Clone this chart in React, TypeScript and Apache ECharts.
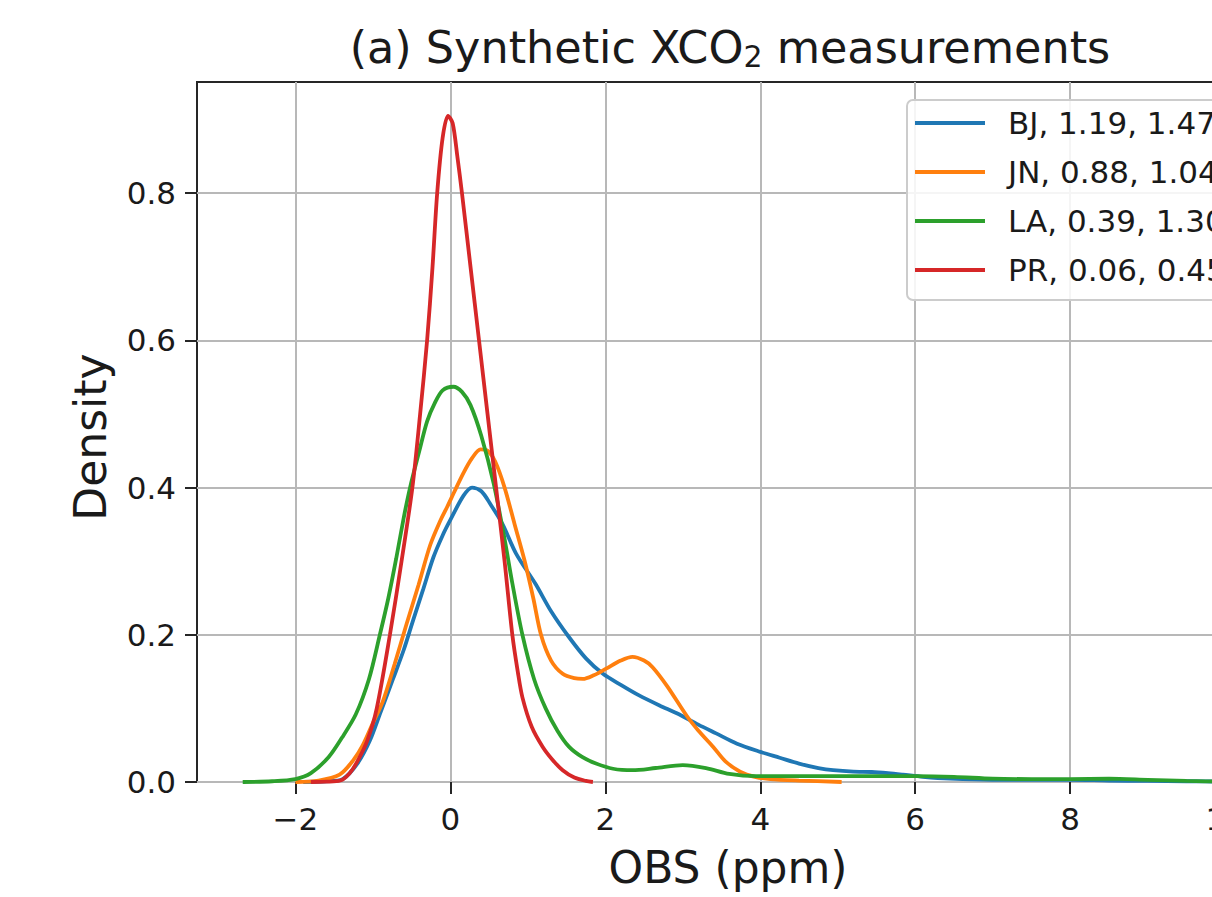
import React, { useEffect, useRef } from 'react';
import * as echarts from 'echarts';

const FONT = 'DejaVu Sans';

const xTicks = [-2, 0, 2, 4, 6, 8, 10];
const yTicks = [0, 0.2, 0.4, 0.6, 0.8];
const xMin = -3.27;
const xMax = 10.45;
const yMax = 0.951;

const legendLabels = ['BJ, 1.19, 1.47', 'JN, 0.88, 1.04', 'LA, 0.39, 1.30', 'PR, 0.06, 0.45'];
const colors = ['#1f77b4', '#ff7f0e', '#2ca02c', '#d62728'];

// BJ (blue)
const bjX = [-1.9, -1.6, -1.39, -1.2, -1.04, -0.9, -0.74, -0.6, -0.48, -0.35, -0.22, -0.1, 0.0, 0.17, 0.28, 0.4, 0.52, 0.67, 0.85, 1.1, 1.3, 1.53, 1.75, 1.97, 2.2, 2.43, 2.7, 2.93, 3.2, 3.43, 3.7, 4.0, 4.25, 4.5, 4.75, 4.94, 5.2, 5.44, 5.65, 5.84, 6.1, 6.45, 7.0, 7.5, 8.0, 8.5, 9.0, 9.5, 10.0, 10.45];
const bjY = [0, 0.001, 0.004, 0.025, 0.056, 0.095, 0.14, 0.18, 0.22, 0.262, 0.305, 0.335, 0.356, 0.389, 0.4, 0.395, 0.377, 0.351, 0.31, 0.269, 0.232, 0.197, 0.168, 0.147, 0.132, 0.118, 0.104, 0.093, 0.078, 0.066, 0.052, 0.041, 0.033, 0.025, 0.019, 0.016, 0.014, 0.0136, 0.012, 0.01, 0.007, 0.0045, 0.003, 0.003, 0.003, 0.002, 0.0015, 0.001, 0.0005, 0.0003];

// JN (orange)
const jnX = [-2.0, -1.7, -1.43, -1.25, -1.13, -1.0, -0.87, -0.72, -0.57, -0.41, -0.26, -0.13, -0.04, 0.05, 0.17, 0.28, 0.39, 0.48, 0.58, 0.7, 0.83, 0.96, 1.07, 1.17, 1.3, 1.45, 1.6, 1.71, 1.85, 2.01, 2.2, 2.35, 2.5, 2.61, 2.8, 3.05, 3.2, 3.39, 3.55, 3.74, 3.93, 4.13, 4.5, 5.05];
const jnY = [0, 0.002, 0.01, 0.03, 0.05, 0.08, 0.11, 0.16, 0.213, 0.268, 0.322, 0.355, 0.374, 0.394, 0.42, 0.44, 0.452, 0.45, 0.435, 0.4, 0.35, 0.3, 0.25, 0.2, 0.165, 0.147, 0.141, 0.14, 0.145, 0.154, 0.165, 0.17, 0.165, 0.156, 0.13, 0.09, 0.07, 0.048, 0.028, 0.014, 0.007, 0.004, 0.002, 0];

// LA (green)
const laX = [-2.68, -2.3, -2.0, -1.8, -1.57, -1.4, -1.22, -1.05, -0.91, -0.8, -0.7, -0.6, -0.52, -0.4, -0.3, -0.2, -0.1, 0.04, 0.15, 0.26, 0.4, 0.56, 0.7, 0.8, 0.93, 1.08, 1.23, 1.38, 1.53, 1.7, 1.88, 2.1, 2.35, 2.65, 3.0, 3.3, 3.6, 3.95, 4.5, 5.0, 5.5, 6.0, 6.5, 7.0, 7.5, 8.0, 8.5, 9.0, 9.5, 10.0, 10.45];
const laY = [0, 0.001, 0.004, 0.012, 0.034, 0.06, 0.092, 0.14, 0.2, 0.25, 0.303, 0.36, 0.4, 0.45, 0.49, 0.515, 0.532, 0.537, 0.53, 0.512, 0.47, 0.405, 0.33, 0.27, 0.2, 0.14, 0.1, 0.07, 0.048, 0.034, 0.025, 0.018, 0.016, 0.019, 0.023, 0.019, 0.011, 0.008, 0.008, 0.008, 0.008, 0.008, 0.007, 0.0045, 0.004, 0.004, 0.0045, 0.003, 0.0015, 0.0005, 0];

// PR (red)
const prX = [-1.8, -1.6, -1.42, -1.3, -1.2, -1.07, -0.95, -0.78, -0.63, -0.49, -0.39, -0.3, -0.23, -0.17, -0.1, -0.03, 0.03, 0.09, 0.15, 0.26, 0.37, 0.48, 0.59, 0.7, 0.8, 0.87, 0.93, 1.05, 1.19, 1.32, 1.45, 1.6, 1.75, 1.84];
const prY = [0, 0.0005, 0.002, 0.012, 0.028, 0.057, 0.1, 0.2, 0.3, 0.4, 0.5, 0.6, 0.7, 0.8, 0.875, 0.905, 0.895, 0.85, 0.8, 0.7, 0.6, 0.5, 0.4, 0.3, 0.2, 0.15, 0.115, 0.075, 0.048, 0.03, 0.016, 0.006, 0.0015, 0];

const seriesX = [bjX, jnX, laX, prX];
const seriesY = [bjY, jnY, laY, prY];

function fmtTick(v: number): string {
  if (v < 0) return '\u2212' + String(Math.abs(v));
  return String(v);
}

function isTick(list: number[], v: number): boolean {
  return list.some((t) => Math.abs(t - v) < 1e-6);
}

export default function App() {
  const ref = useRef<HTMLDivElement>(null);
  useEffect(() => {
    if (!ref.current) return;
    const chart = echarts.init(ref.current, undefined, { renderer: 'svg' });
    chart.setOption({
      animation: false,
      backgroundColor: '#ffffff',
      textStyle: { fontFamily: FONT },
      grid: {
        left: 197,
        top: 82,
        width: 1063,
        height: 700,
        show: true,
        borderColor: '#262626',
        borderWidth: 2,
        backgroundColor: 'transparent',
      },
      legend: {
        orient: 'vertical',
        left: 907,
        top: 100,
        padding: [7, 10, 14, 8],
        itemWidth: 70,
        itemHeight: 4,
        itemGap: 17,
        icon: 'rect',
        backgroundColor: 'rgba(255,255,255,0.85)',
        borderColor: '#cccccc',
        borderWidth: 2,
        borderRadius: 6,
        data: legendLabels,
        textStyle: {
          fontFamily: FONT,
          fontSize: 31,
          lineHeight: 32,
          color: '#1a1a1a',
          padding: [0, 0, 0, 18],
        },
      },
      xAxis: {
        type: 'value',
        min: xMin,
        max: xMax,
        splitNumber: 7,
        axisLine: { show: false, onZero: false },
        axisTick: {
          show: true,
          length: 12,
          lineStyle: { color: '#262626', width: 2 },
          customValues: xTicks,
        },
        axisLabel: {
          fontFamily: FONT,
          fontSize: 31,
          color: '#1a1a1a',
          margin: 21,
          customValues: xTicks,
          formatter: (v: number) => (isTick(xTicks, v) ? fmtTick(v) : ''),
        },
        splitLine: { show: true, lineStyle: { color: '#b8b8b8', width: 2 } },
      },
      yAxis: {
        type: 'value',
        min: 0,
        max: yMax,
        interval: 0.2,
        axisLine: { show: false, onZero: false },
        axisTick: {
          show: true,
          length: 12,
          lineStyle: { color: '#262626', width: 2 },
          customValues: yTicks,
        },
        axisLabel: {
          fontFamily: FONT,
          fontSize: 31,
          color: '#1a1a1a',
          margin: 21,
          customValues: yTicks,
          formatter: (v: number) => (isTick(yTicks, v) ? v.toFixed(1) : ''),
        },
        splitLine: { show: true, lineStyle: { color: '#b8b8b8', width: 2 } },
      },
      graphic: [
        {
          type: 'text',
          x: 730,
          y: 47,
          style: {
            text: '(a) Synthetic XCO{sub|2} measurements',
            fontFamily: FONT,
            fontSize: 44.5,
            fill: '#1a1a1a',
            align: 'center',
            verticalAlign: 'middle',
            rich: {
              sub: { fontFamily: FONT, fontSize: 30, fill: '#1a1a1a', padding: [18, 0, 0, 0] },
            },
          },
        },
        {
          type: 'text',
          x: 728,
          y: 867,
          style: {
            text: 'OBS (ppm)',
            fontFamily: FONT,
            fontSize: 44,
            fill: '#1a1a1a',
            align: 'center',
            verticalAlign: 'middle',
          },
        },
        {
          type: 'text',
          x: 90,
          y: 437,
          rotation: Math.PI / 2,
          style: {
            text: 'Density',
            fontFamily: FONT,
            fontSize: 44,
            fill: '#1a1a1a',
            align: 'center',
            verticalAlign: 'middle',
          },
        },
      ],
      series: legendLabels.map((name, i) => ({
        name,
        type: 'line',
        data: seriesX[i].map((x, j) => [x, seriesY[i][j]]),
        showSymbol: false,
        symbol: 'none',
        smooth: 0.3,
        lineStyle: { color: colors[i], width: 3.8 },
        itemStyle: { color: colors[i] },
        z: 3 + i,
      })),
    });
    return () => {
      chart.dispose();
    };
  }, []);
  return (
    <div
      style={{
        position: 'fixed',
        left: 0,
        top: 0,
        width: 1212,
        height: 897,
        overflow: 'hidden',
        background: '#ffffff',
      }}
    >
      <div ref={ref} style={{ width: 1320, height: 897 }} />
    </div>
  );
}
